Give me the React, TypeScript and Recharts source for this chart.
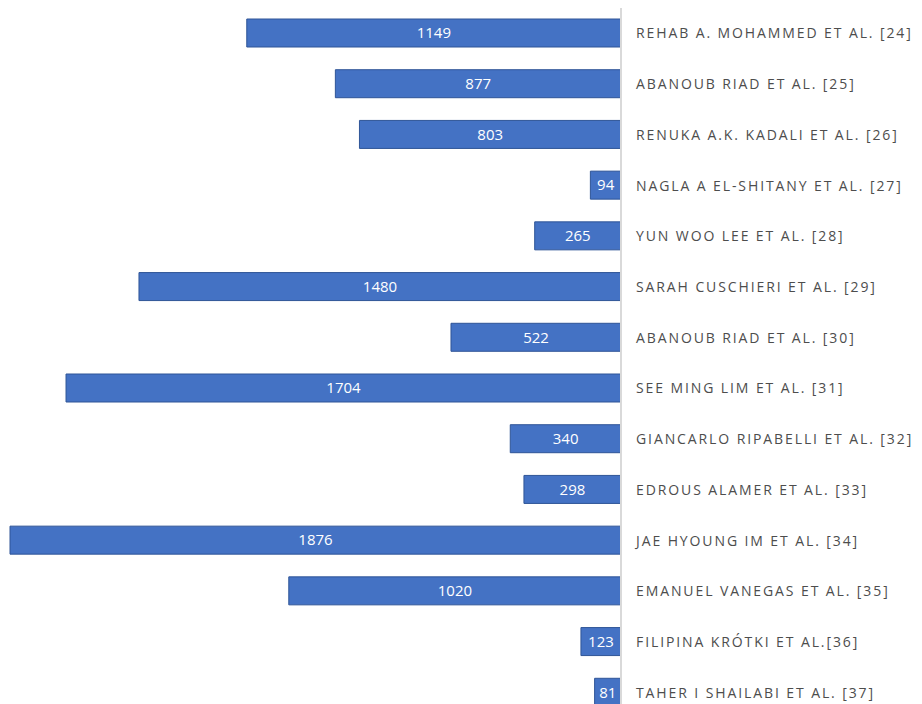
import React from "react";
import { BarChart, Bar, XAxis, YAxis, LabelList } from "recharts";

const authors = [
  "REHAB A. MOHAMMED ET AL. [24]",
  "ABANOUB RIAD ET AL. [25]",
  "RENUKA A.K. KADALI ET AL. [26]",
  "NAGLA A EL-SHITANY ET AL. [27]",
  "YUN WOO LEE ET AL. [28]",
  "SARAH CUSCHIERI ET AL. [29]",
  "ABANOUB RIAD ET AL. [30]",
  "SEE MING LIM ET AL. [31]",
  "GIANCARLO RIPABELLI ET AL. [32]",
  "EDROUS ALAMER ET AL. [33]",
  "JAE HYOUNG IM ET AL. [34]",
  "EMANUEL VANEGAS ET AL. [35]",
  "FILIPINA KRÓTKI ET AL.[36]",
  "TAHER I SHAILABI ET AL. [37]",
];

const sampleSizes = [1149, 877, 803, 94, 265, 1480, 522, 1704, 340, 298, 1876, 1020, 123, 81];

const data = authors.map((name, i) => ({ name, value: sampleSizes[i] }));

const AuthorTick = (props: any) => {
  const { x, y, payload } = props;
  return (
    <text
      x={x + 7}
      y={y}
      dy={5}
      textAnchor="start"
      fill="#4d4d4d"
      fontSize={14}
      fontFamily="'Open Sans', sans-serif"
      letterSpacing={1.9}
    >
      {payload.value}
    </text>
  );
};

export default function App() {
  return (
    <div style={{ height: 696, overflow: "hidden" }}>
      <style>{"html,body{overflow:hidden;}"}</style>
      <BarChart
        width={914}
        height={710}
        data={data}
        layout="vertical"
        margin={{ top: 0, right: 0, bottom: 0, left: 2 }}
        barSize={28}
      >
        <XAxis type="number" domain={[0, 1876]} reversed hide />
        <YAxis
          type="category"
          dataKey="name"
          orientation="right"
          width={301}
          axisLine={{ stroke: "#d9d9d9", strokeWidth: 2 }}
          tickLine={false}
          tick={<AuthorTick />}
          interval={0}
        />
        <Bar
          dataKey="value"
          fill="#4472C4"
          stroke="#2F5597"
          strokeWidth={1}
          isAnimationActive={false}
        >
          <LabelList
            dataKey="value"
            position="center"
            fill="#ffffff"
            fontSize={15}
            fontFamily="'Open Sans', sans-serif"
          />
        </Bar>
      </BarChart>
    </div>
  );
}
